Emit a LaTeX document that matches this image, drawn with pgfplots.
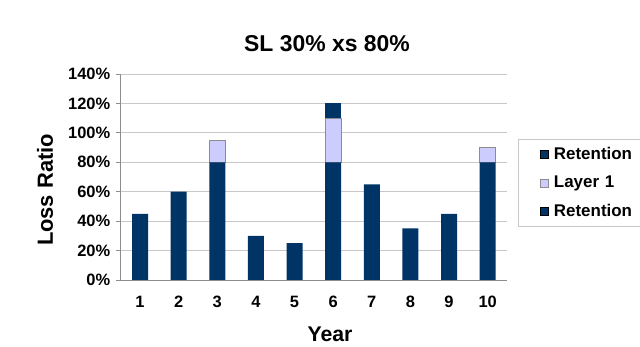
\documentclass[border=0pt]{standalone}
\usepackage{pgfplots}
\pgfplotsset{compat=1.18}
\usepackage{fontspec}
\setmainfont{Liberation Sans}
\definecolor{navy}{RGB}{0,51,102}
\definecolor{lavender}{RGB}{204,204,255}
\definecolor{gridgray}{RGB}{200,200,200}
\definecolor{axisgray}{RGB}{140,140,140}

\begin{document}
\begin{tikzpicture}
\useasboundingbox (0,0) rectangle (640bp,347bp);
\begin{axis}[
  at={(120.7bp,67bp)}, anchor=south west,
  scale only axis, width=386.3bp, height=206bp,
  ybar stacked, bar width=16bp,
  xmin=0.5, xmax=10.5, ymin=0, ymax=140,
  axis x line*=bottom, axis y line*=left,
  axis line style={axisgray, line width=0.8pt},
  ymajorgrids, grid style={gridgray, line width=0.8pt},
  ytick={0,20,...,140},
  yticklabel={\pgfmathprintnumber{\tick}\%},
  /pgf/number format/assume math mode=true,
  xtick={1,...,10},
  xticklabels={1,2,3,4,5,6,7,8,9,10},
  major x tick style={draw=none},
  extra x ticks={0.5,1.5,...,10.5},
  extra x tick labels={},
  extra x tick style={major x tick style={axisgray, line width=0.8pt}, grid=none},
  tick align=outside, major tick length=5bp,
  y tick style={axisgray, line width=0.8pt},
  ticklabel style={font=\fontsize{16.5}{18}\selectfont\bfseries},
  xticklabel style={yshift=-8bp},
  yticklabel style={xshift=-2bp},
  title={SL 30\% xs 80\%},
  title style={at={(0.534,1.117)}, anchor=center, font=\fontsize{23}{26}\selectfont\bfseries},
  xlabel={Year},
  xlabel style={at={(0.542,-0.262)}, anchor=center, font=\fontsize{21.3}{24}\selectfont\bfseries},
  ylabel={Loss Ratio},
  ylabel style={at={(-0.196,0.437)}, anchor=center, rotate=0, font=\fontsize{22}{24}\selectfont\bfseries},
  legend style={at={(1.0285,0.684)}, anchor=north west, draw=gridgray, line width=0.8pt,
    font=\fontsize{17}{20}\selectfont\bfseries, inner xsep=22bp, inner ysep=6bp,
    row sep=11bp, cells={anchor=west}, text width=110bp},
  legend image code/.code={\draw[#1, line width=0.5pt] (0bp,-4bp) rectangle (8bp,4bp);
    \path (11bp,0bp);},
  reverse legend,
]
\addplot[fill=navy, draw=none] coordinates {(1,45) (2,60) (3,80) (4,30) (5,25) (6,80) (7,65) (8,35) (9,45) (10,80)};
\addplot[fill=lavender, draw=axisgray, line width=0.6pt] coordinates {(1,0) (2,0) (3,15) (4,0) (5,0) (6,30) (7,0) (8,0) (9,0) (10,10)};
\addplot[fill=navy, draw=none] coordinates {(1,0) (2,0) (3,0) (4,0) (5,0) (6,10) (7,0) (8,0) (9,0) (10,0)};
\legend{Retention, Layer 1, Retention}
\end{axis}
\end{tikzpicture}
\end{document}
